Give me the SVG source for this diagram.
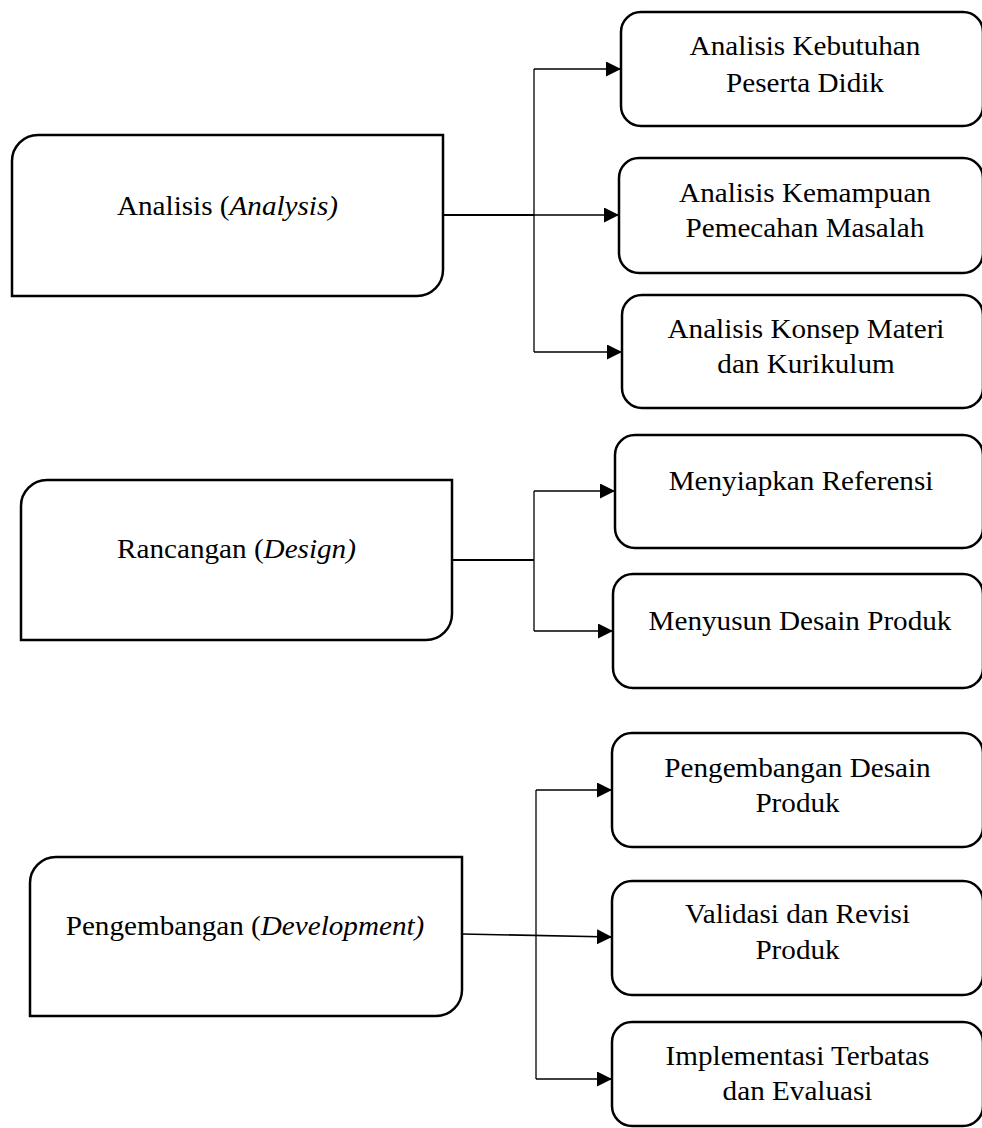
<svg xmlns="http://www.w3.org/2000/svg" width="982" height="1128" viewBox="0 0 982 1128">
<style>
.box{fill:#fff;stroke:#000;stroke-width:2.5}
.conn{fill:none;stroke:#000;stroke-width:1.3}
.t{font-family:"Liberation Serif","Times New Roman",serif;font-size:27px;fill:#000;text-anchor:middle}
.i{font-style:italic}
</style>
<defs>
<marker id="arr" markerUnits="userSpaceOnUse" markerWidth="16" markerHeight="16" refX="15" refY="7.5" orient="auto">
<path d="M0,0 L15,7.5 L0,15 Z" fill="#000"/>
</marker>
</defs>
<rect width="982" height="1128" fill="#fff"/>
<g id="connectors">
<path class="conn" d="M443,215 H534" style="stroke-width:2"/>
<path class="conn" d="M534,69 V352"/>
<path class="conn" d="M534,69 H621" marker-end="url(#arr)"/>
<path class="conn" d="M534,215 H619" marker-end="url(#arr)"/>
<path class="conn" d="M534,352 H622" marker-end="url(#arr)"/>
<path class="conn" d="M452,560 H534" style="stroke-width:1.8"/>
<path class="conn" d="M534,491 V631"/>
<path class="conn" d="M534,491 H615" marker-end="url(#arr)"/>
<path class="conn" d="M534,631 H613" marker-end="url(#arr)"/>
<path class="conn" d="M462,934 L612,937" marker-end="url(#arr)" style="stroke-width:1.6"/>
<path class="conn" d="M536,790 V1079"/>
<path class="conn" d="M536,790 H612" marker-end="url(#arr)"/>
<path class="conn" d="M536,1079 H612" marker-end="url(#arr)"/>
</g>
<g id="analysis">
<path class="box" d="M12,161 A26,26 0 0 1 38,135 H443 V270 A26,26 0 0 1 417,296 H12 Z"/>
<text class="t" transform="translate(227.5,215) scale(1.08,1)">Analisis (<tspan class="i">Analysis)</tspan></text>
</g>
<g id="kebutuhan">
<rect class="box" x="621" y="12" width="362" height="114" rx="20"/>
<text class="t" transform="translate(805,55) scale(1.08,1)">Analisis Kebutuhan</text>
<text class="t" transform="translate(805,92) scale(1.08,1)">Peserta Didik</text>
</g>
<g id="kemampuan">
<rect class="box" x="619" y="158" width="364" height="115" rx="20"/>
<text class="t" transform="translate(805,202) scale(1.08,1)">Analisis Kemampuan</text>
<text class="t" transform="translate(805,237) scale(1.08,1)">Pemecahan Masalah</text>
</g>
<g id="konsep">
<rect class="box" x="622" y="295" width="361" height="113" rx="20"/>
<text class="t" transform="translate(806,338) scale(1.08,1)">Analisis Konsep Materi</text>
<text class="t" transform="translate(806,373) scale(1.08,1)">dan Kurikulum</text>
</g>
<g id="design">
<path class="box" d="M21,506 A26,26 0 0 1 47,480 H452 V614 A26,26 0 0 1 426,640 H21 Z"/>
<text class="t" transform="translate(236.5,558) scale(1.08,1)">Rancangan (<tspan class="i">Design)</tspan></text>
</g>
<g id="referensi">
<rect class="box" x="615" y="435" width="368" height="113" rx="20"/>
<text class="t" transform="translate(801,490) scale(1.08,1)">Menyiapkan Referensi</text>
</g>
<g id="desain">
<rect class="box" x="613" y="574" width="370" height="114" rx="20"/>
<text class="t" transform="translate(800,630) scale(1.08,1)">Menyusun Desain Produk</text>
</g>
<g id="development">
<path class="box" d="M30,883 A26,26 0 0 1 56,857 H462 V990 A26,26 0 0 1 436,1016 H30 Z"/>
<text class="t" transform="translate(245,935) scale(1.08,1)">Pengembangan (<tspan class="i">Development)</tspan></text>
</g>
<g id="pengembangan-desain">
<rect class="box" x="612" y="733" width="371" height="114" rx="20"/>
<text class="t" transform="translate(797.5,777) scale(1.08,1)">Pengembangan Desain</text>
<text class="t" transform="translate(797.5,812) scale(1.08,1)">Produk</text>
</g>
<g id="validasi">
<rect class="box" x="612" y="881" width="371" height="114" rx="20"/>
<text class="t" transform="translate(797.5,923) scale(1.08,1)">Validasi dan Revisi</text>
<text class="t" transform="translate(797.5,959) scale(1.08,1)">Produk</text>
</g>
<g id="implementasi">
<rect class="box" x="612" y="1022" width="371" height="104" rx="20"/>
<text class="t" transform="translate(797.5,1065) scale(1.08,1)">Implementasi Terbatas</text>
<text class="t" transform="translate(797.5,1100) scale(1.08,1)">dan Evaluasi</text>
</g>
</svg>
